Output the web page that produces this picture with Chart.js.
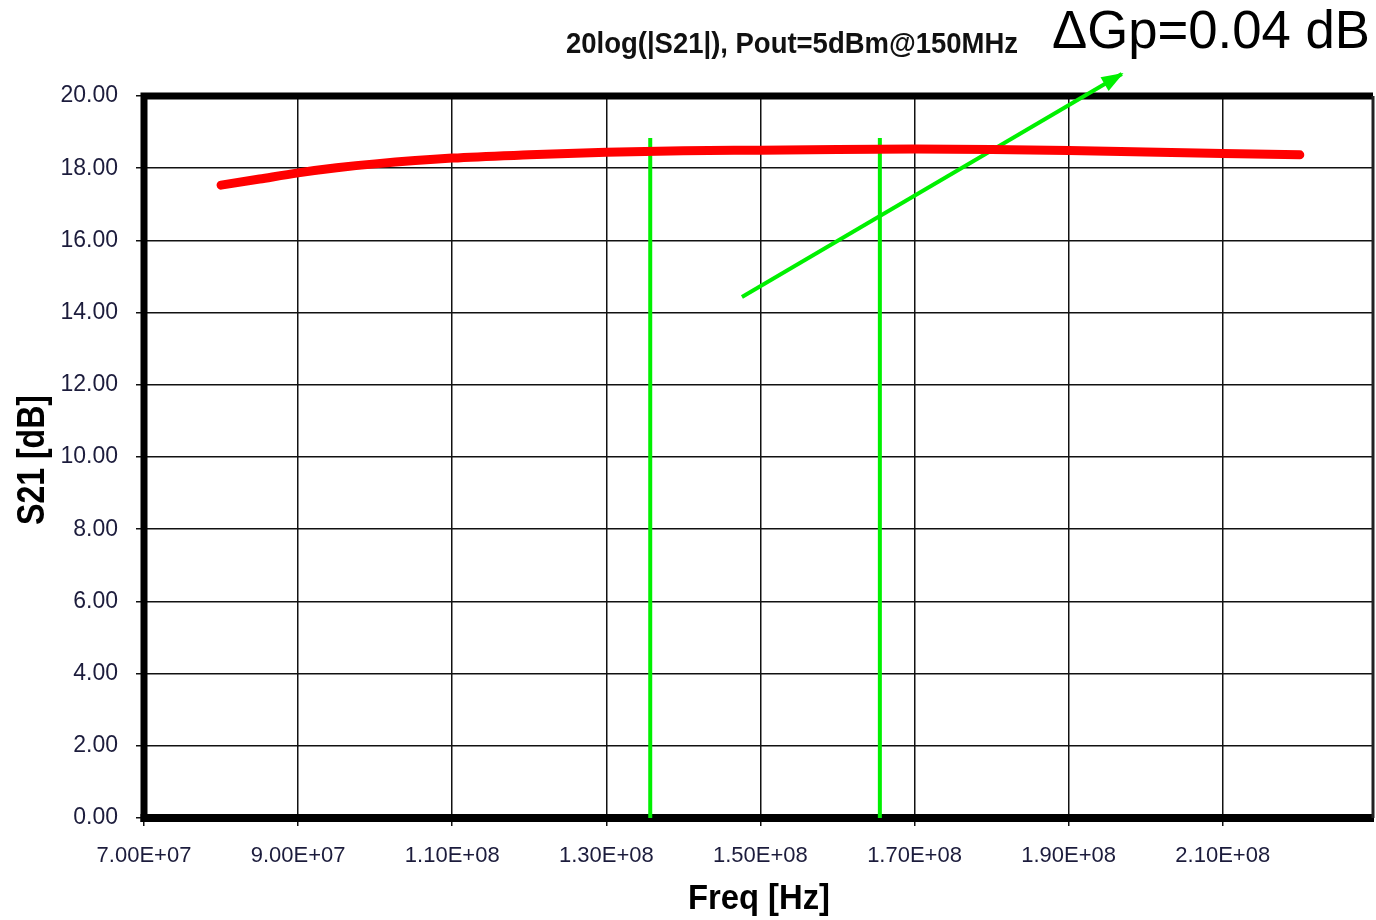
<!DOCTYPE html>
<html>
<head>
<meta charset="utf-8">
<script src="https://cdn.jsdelivr.net/npm/chart.js@4"></script>
<style>
html, body { margin: 0; padding: 0; background: #fff; }
canvas { display: block; }
</style>
</head>
<body>
<canvas id="chart" width="1376" height="920"></canvas>
<script>
// measured gain curve
const freqHz = [8.0e7, 8.5e7, 9.0e7, 9.5e7, 1.0e8, 1.1e8, 1.2e8, 1.3e8, 1.4e8, 1.5e8, 1.6e8, 1.7e8, 1.8e8, 1.9e8, 2.0e8, 2.1e8, 2.2e8];
const s21dB  = [17.53, 17.70, 17.87, 18.01, 18.12, 18.28, 18.37, 18.44, 18.48, 18.50, 18.52, 18.53, 18.52, 18.49, 18.45, 18.41, 18.37];

// green annotation: band edges and arrow to the label
const markerFreq = [1.357e8, 1.655e8];
const markerGain = [18.84, 0];
const arrowFreq = [1.476e8, 1.969e8];
const arrowGain = [14.43, 20.61];

const xTicks = [7e7, 9e7, 1.1e8, 1.3e8, 1.5e8, 1.7e8, 1.9e8, 2.1e8];
const titleText = '20log(|S21|), Pout=5dBm@150MHz';
const noteText = '\u0394Gp=0.04 dB';
const xTitle = 'Freq [Hz]';
const yTitle = 'S21 [dB]';

const GREEN = '#00f000';
const TICK_COLOR = '#1c1c3c';

function sci(v) {
    const [m, e] = v.toExponential(2).split('e');
    return m + 'E' + e[0] + e.slice(1).padStart(2, '0');
}

function pts(xs, ys) {
    return xs.map((x, i) => ({ x: x, y: ys[i] }));
}

const decor = {
    id: 'decor',
    beforeDatasetsDraw(chart) {
        const { ctx, chartArea: a } = chart;
        ctx.save();
        ctx.strokeStyle = '#000';
        ctx.lineCap = 'butt';
        // thick left / top / bottom frame
        ctx.lineWidth = 7;
        ctx.beginPath();
        ctx.moveTo(a.left, a.top - 3.5);
        ctx.lineTo(a.left, a.bottom + 4);
        ctx.moveTo(a.left - 3.5, a.top);
        ctx.lineTo(a.right, a.top);
        ctx.stroke();
        ctx.lineWidth = 8;
        ctx.beginPath();
        ctx.moveTo(a.left - 3.5, a.bottom);
        ctx.lineTo(a.right + 1, a.bottom);
        ctx.stroke();
        ctx.lineWidth = 3;
        ctx.strokeStyle = '#222';
        ctx.beginPath();
        ctx.moveTo(a.right, a.top);
        ctx.lineTo(a.right, a.bottom);
        ctx.stroke();
        ctx.restore();
    },
    afterDatasetsDraw(chart) {
        // arrow head at the end of the arrow line
        const { ctx, scales: { x, y } } = chart;
        const n = arrowFreq.length;
        const x1 = x.getPixelForValue(arrowFreq[n - 2]), y1 = y.getPixelForValue(arrowGain[n - 2]);
        const x2 = x.getPixelForValue(arrowFreq[n - 1]), y2 = y.getPixelForValue(arrowGain[n - 1]);
        const ang = Math.atan2(y2 - y1, x2 - x1);
        const len = 20, half = 8;
        ctx.save();
        ctx.translate(x2, y2);
        ctx.rotate(ang);
        ctx.fillStyle = GREEN;
        ctx.beginPath();
        ctx.moveTo(2, 0);
        ctx.lineTo(-len, -half);
        ctx.lineTo(-len, half);
        ctx.closePath();
        ctx.fill();
        ctx.restore();
    },
    afterDraw(chart) {
        const { ctx } = chart;
        ctx.save();
        ctx.fillStyle = '#111';
        ctx.textBaseline = 'alphabetic';

        ctx.font = 'bold 30px "Liberation Sans", Arial, sans-serif';
        ctx.textAlign = 'center';
        ctx.fillText(titleText, 792, 53, 452);

        ctx.fillStyle = '#000';
        ctx.font = '53px "Liberation Sans", Arial, sans-serif';
        ctx.textAlign = 'left';
        ctx.fillText(noteText, 1052, 48, 318);

        ctx.font = 'bold 35px "Liberation Sans", Arial, sans-serif';
        ctx.textAlign = 'center';
        ctx.fillText(xTitle, 759, 909, 142);

        ctx.translate(44, 460);
        ctx.rotate(-Math.PI / 2);
        ctx.font = 'bold 38px "Liberation Sans", Arial, sans-serif';
        ctx.fillText(yTitle, 0, 0, 130);
        ctx.restore();
    }
};

new Chart(document.getElementById('chart'), {
    type: 'scatter',
    data: {
        datasets: [
            {
                label: 'S21',
                data: pts(freqHz, s21dB),
                showLine: true,
                borderColor: '#ff0000',
                borderWidth: 9,
                borderCapStyle: 'round',
                borderJoinStyle: 'round',
                cubicInterpolationMode: 'monotone',
                pointRadius: 0
            },
            {
                label: 'edge 1',
                data: pts([markerFreq[0], markerFreq[0]], markerGain),
                showLine: true,
                borderColor: GREEN,
                borderWidth: 4,
                pointRadius: 0,
                clip: false
            },
            {
                label: 'edge 2',
                data: pts([markerFreq[1], markerFreq[1]], markerGain),
                showLine: true,
                borderColor: GREEN,
                borderWidth: 4,
                pointRadius: 0,
                clip: false
            },
            {
                label: 'arrow',
                data: pts(arrowFreq, arrowGain),
                showLine: true,
                borderColor: GREEN,
                borderWidth: 4,
                pointRadius: 0,
                clip: false
            }
        ]
    },
    options: {
        responsive: false,
        animation: false,
        events: [],
        layout: { padding: { left: 0, right: 3, top: 96, bottom: 0 } },
        plugins: {
            legend: { display: false },
            tooltip: { enabled: false }
        },
        scales: {
            x: {
                type: 'linear',
                min: 7e7,
                max: 2.295e8,
                afterFit: s => { s.height = 102; },
                afterBuildTicks: s => { s.ticks = xTicks.map(v => ({ value: v })); },
                border: { display: false },
                grid: { color: '#111', lineWidth: 1.5, tickLength: 8, drawTicks: true },
                ticks: {
                    callback: v => sci(v),
                    color: TICK_COLOR,
                    padding: 17,
                    maxRotation: 0,
                    autoSkip: false,
                    font: { family: '"Liberation Sans", Arial, sans-serif', size: 22 }
                }
            },
            y: {
                min: 0,
                max: 20,
                afterFit: s => { s.width = 144; },
                border: { display: false },
                grid: { color: '#111', lineWidth: 1.5, tickLength: 8, drawTicks: true },
                ticks: {
                    stepSize: 2,
                    callback: v => v.toFixed(2),
                    color: TICK_COLOR,
                    padding: 18,
                    font: { family: '"Liberation Sans", Arial, sans-serif', size: 23 }
                }
            }
        }
    },
    plugins: [decor]
});
</script>
</body>
</html>
